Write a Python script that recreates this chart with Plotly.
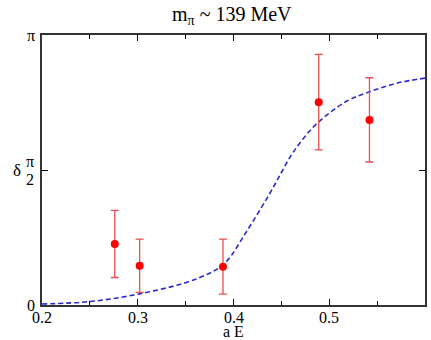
import numpy as np
import plotly.graph_objects as go

# data points
aE = [0.276, 0.302, 0.389, 0.489, 0.542]
delta = [0.71, 0.457, 0.446, 2.36, 2.154]
err_up = [0.39, 0.31, 0.32, 0.555, 0.49]
err_dn = [0.39, 0.31, 0.32, 0.555, 0.49]

# fitted curve
curve_x = [0.2, 0.25, 0.30, 0.35, 0.375, 0.389, 0.398, 0.410, 0.424, 0.438, 0.448,
           0.459, 0.471, 0.487, 0.518, 0.542, 0.570, 0.6]
curve_y = [0.012, 0.04, 0.125, 0.26, 0.37, 0.466, 0.58, 0.79, 1.04, 1.30, 1.50,
           1.72, 1.91, 2.11, 2.37, 2.48, 2.58, 2.64]

xticks = [0.2, 0.3, 0.4, 0.5]
xticklabels = ["0.2", "0.3", "0.4", "0.5"]
yticks = [0, np.pi / 2, np.pi]
yticklabels = ["0", "", "π"]

serif = "Liberation Serif"

fig = go.Figure()
fig.add_trace(go.Scatter(
    x=curve_x, y=curve_y, mode="lines",
    line=dict(color="#2a2ad0", width=1.6, dash="5px,3px", shape="spline", smoothing=1),
    hoverinfo="skip", showlegend=False))
fig.add_trace(go.Scatter(
    x=aE, y=delta, mode="markers",
    marker=dict(color="#ff0000", size=8),
    error_y=dict(type="data", symmetric=False, array=err_up, arrayminus=err_dn,
                 color="#e85050", thickness=1.3, width=4),
    showlegend=False))

fig.update_layout(
    width=431, height=340,
    margin=dict(l=42, r=6, t=35, b=35, autoexpand=False),
    paper_bgcolor="white", plot_bgcolor="white",
    font=dict(family=serif, size=16, color="black"),
    showlegend=False,
)
fig.update_xaxes(
    range=[0.2, 0.6], tickvals=xticks, showticklabels=False,
    ticks="inside", ticklen=6, tickwidth=1, tickcolor="black",
    minor=dict(dtick=0.05, ticks="inside", ticklen=4, tickcolor="black", tick0=0.2),
    showline=True, linecolor="#333333", linewidth=1.6, mirror="allticks",
    showgrid=False, zeroline=False, automargin=False,
)
fig.update_yaxes(
    range=[0, np.pi], tickvals=yticks, showticklabels=False,
    ticks="inside", ticklen=6, tickwidth=1, tickcolor="black",
    showline=True, linecolor="#333333", linewidth=1.6, mirror="allticks",
    showgrid=False, zeroline=False, automargin=False,
)


def px_x(p):
    return (p - 42) / 383


def px_y(p):
    return (305 - p) / 270


for xv, lab in zip(xticks, xticklabels):
    fig.add_annotation(text=lab, xref="x", yref="paper", x=xv, y=px_y(317),
                       showarrow=False, xanchor="center", yanchor="middle",
                       borderpad=0, font=dict(size=16, family=serif))
for yv, lab in zip(yticks, yticklabels):
    if lab:
        fig.add_annotation(text=lab, xref="paper", yref="y", x=px_x(31), y=yv,
                           showarrow=False, xanchor="center", yanchor="middle",
                           borderpad=0, font=dict(size=16, family=serif))

fig.add_annotation(text="m<sub>π</sub> ~ 139 MeV", xref="paper", yref="paper",
                   x=px_x(232), y=px_y(16), showarrow=False, xanchor="center",
                   yanchor="middle", font=dict(size=20, family=serif))
fig.add_annotation(text="a E", xref="paper", yref="paper", x=px_x(234), y=px_y(331.5),
                   showarrow=False, xanchor="center", yanchor="middle",
                   borderpad=0, font=dict(size=16, family=serif))
fig.add_annotation(text="δ", xref="paper", yref="paper", x=px_x(17), y=px_y(170),
                   showarrow=False, xanchor="center", yanchor="middle",
                   font=dict(size=17, family=serif))
fig.add_annotation(text="π", xref="paper", yref="paper", x=px_x(30),
                   y=px_y(161.5), showarrow=False, xanchor="center",
                   yanchor="middle", borderpad=0, font=dict(size=16, family=serif))
fig.add_annotation(text="2", xref="paper", yref="paper", x=px_x(30),
                   y=px_y(180), showarrow=False, xanchor="center",
                   yanchor="middle", borderpad=0, font=dict(size=16, family=serif))

fig.write_html("out.html")
